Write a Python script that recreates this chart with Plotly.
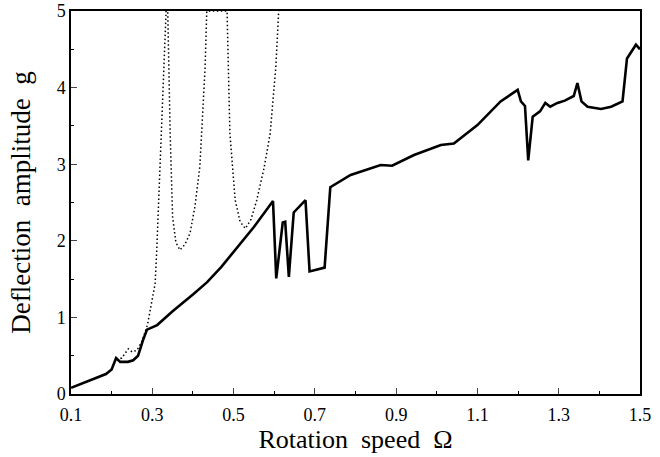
import plotly.graph_objects as go

# Solid curve: computed deflection amplitude
solid_x = [0.100, 0.140, 0.186, 0.200, 0.211, 0.221, 0.240, 0.253, 0.265, 0.277, 0.287,
           0.312, 0.350, 0.400, 0.435, 0.470, 0.500, 0.550, 0.597,
           0.605, 0.621, 0.627, 0.636, 0.648, 0.677, 0.687, 0.724, 0.738,
           0.788, 0.862, 0.890, 0.944, 1.010, 1.042, 1.100, 1.157, 1.199,
           1.207, 1.217, 1.225, 1.236, 1.254, 1.267, 1.279, 1.297, 1.315,
           1.337, 1.346, 1.356, 1.371, 1.404, 1.429, 1.457, 1.468, 1.490,
           1.498, 1.500]
solid_y = [0.08, 0.16, 0.26, 0.32, 0.47, 0.42, 0.42, 0.44, 0.50, 0.70, 0.84,
           0.90, 1.08, 1.30, 1.46, 1.66, 1.86, 2.18, 2.52,
           1.51, 2.24, 2.25, 1.53, 2.37, 2.53, 1.60, 1.65, 2.70,
           2.86, 2.99, 2.98, 3.12, 3.25, 3.27, 3.51, 3.82, 3.97,
           3.82, 3.76, 3.05, 3.62, 3.69, 3.80, 3.75, 3.80, 3.83,
           3.89, 4.06, 3.82, 3.75, 3.72, 3.75, 3.82, 4.38, 4.56,
           4.50, 4.50]

# Dotted curve: linear (unstable) solution with resonances
dot_x = [0.212, 0.225, 0.241, 0.250, 0.262, 0.274, 0.288, 0.294, 0.301, 0.307,
         0.311, 0.319, 0.326, 0.331, 0.334,
         0.338, 0.341, 0.344, 0.350, 0.358, 0.368, 0.380, 0.393, 0.405, 0.417,
         0.430, 0.434, 0.460, 0.484,
         0.487, 0.491, 0.504, 0.516, 0.529, 0.543, 0.557, 0.575, 0.590, 0.604, 0.611]
dot_y = [0.45, 0.47, 0.59, 0.55, 0.57, 0.68, 0.90, 1.07, 1.27, 1.44,
         1.88, 2.97, 3.84, 4.71, 5.00,
         5.00, 4.20, 3.40, 2.31, 1.98, 1.88, 1.95, 2.10, 2.45, 2.97,
         4.27, 5.00, 5.00, 5.00,
         4.30, 3.40, 2.53, 2.25, 2.16, 2.28, 2.53, 2.95, 3.40, 4.27, 5.00]

x_ticks = [0.1, 0.3, 0.5, 0.7, 0.9, 1.1, 1.3, 1.5]
x_labels = ["0.1", "0.3", "0.5", "0.7", "0.9", "1.1", "1.3", "1.5"]
y_ticks = [0, 1, 2, 3, 4, 5]

fig = go.Figure()
fig.add_trace(go.Scatter(x=dot_x, y=dot_y, mode="lines",
                         line=dict(color="black", width=1.5, dash="1.5px,2.5px"),
                         showlegend=False))
fig.add_trace(go.Scatter(x=solid_x, y=solid_y, mode="lines",
                         line=dict(color="black", width=2.6),
                         showlegend=False))

font = "Liberation Serif, Times New Roman, serif"
fig.update_layout(
    width=660, height=457,
    margin=dict(l=71, r=20, t=11, b=63),
    paper_bgcolor="white", plot_bgcolor="white",
    font=dict(family=font, color="black", size=18),
    xaxis=dict(range=[0.1, 1.5], tickvals=x_ticks, ticktext=x_labels, automargin=False,
               ticks="inside", ticklen=6, tickwidth=1, showgrid=False, zeroline=False,
               showline=True, linecolor="black", linewidth=1.5, mirror=True,
               ticklabelstandoff=4,
               minor=dict(dtick=0.1, tick0=0.1, ticks="inside", ticklen=3, tickcolor="black"),
               title=dict(text="Rotation  speed  Ω", font=dict(size=26, family=font), standoff=2),
               tickfont=dict(size=18)),
    yaxis=dict(range=[0, 5], tickvals=y_ticks, automargin=False,
               ticks="inside", ticklen=6, tickwidth=1, showgrid=False, zeroline=False,
               showline=True, linecolor="black", linewidth=1.5, mirror=True,
               minor=dict(dtick=0.5, tick0=0, ticks="inside", ticklen=3, tickcolor="black"),
               title=dict(text="Deflection  amplitude  g", font=dict(size=27, family=font), standoff=18),
               tickfont=dict(size=18)),
)

fig.write_html("out.html", config={"displayModeBar": False},
               post_script="document.body.style.margin='0px';")
